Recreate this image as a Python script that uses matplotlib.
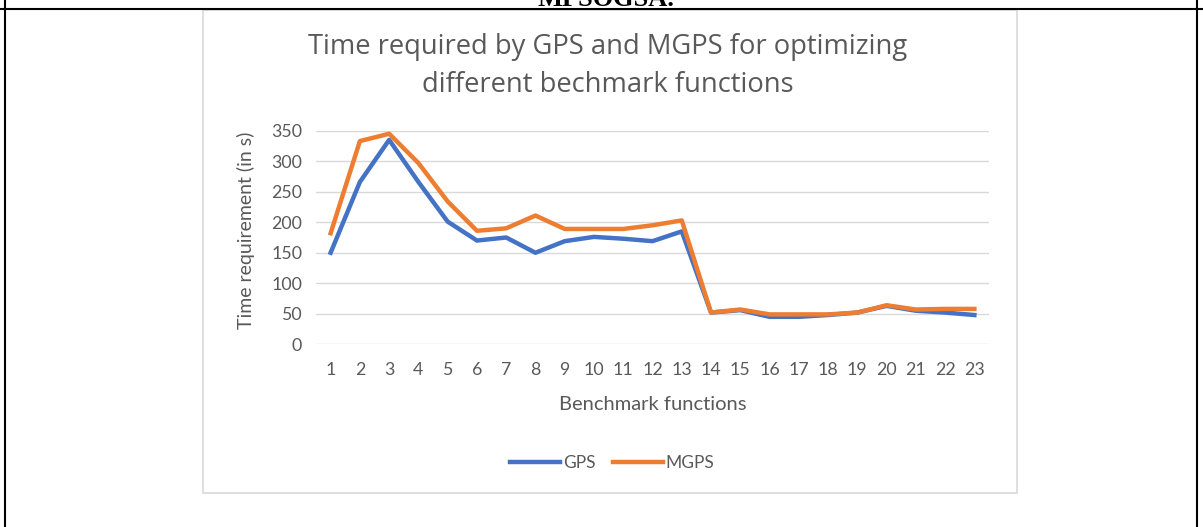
import matplotlib.pyplot as plt
from matplotlib.patches import Rectangle
from matplotlib.lines import Line2D

# Data
functions = list(range(1, 24))
gps = [150, 266, 335, 266, 201, 170, 175, 150, 169, 176, 173, 169, 185,
       52, 56, 45, 45, 48, 52, 63, 55, 52, 48]
mgps = [182, 333, 345, 297, 234, 186, 190, 211, 189, 189, 189, 195, 203,
        52, 57, 49, 49, 49, 52, 64, 57, 58, 58]

W, H = 1203, 527
fig = plt.figure(figsize=(W / 100, H / 100), dpi=100)
grey = '#595959'

# Table borders around the chart cell
fig.add_artist(Line2D([0, 1], [1 - 8.5 / H, 1 - 8.5 / H], color='black', lw=1.5))
fig.add_artist(Line2D([5 / W, 5 / W], [0, 1], color='black', lw=1.5))
fig.add_artist(Line2D([1197 / W, 1197 / W], [0, 1], color='black', lw=1.5))
# caption of the previous table row, cut by the top edge
fig.text(606 / W, 1 - 6.5 / H, 'MPSOGSA.', ha='center', va='baseline',
         fontsize=19, fontweight='bold', family='Liberation Serif')

# Chart area frame
fig.add_artist(Rectangle((203 / W, 1 - 493 / H), 814 / W, 483 / H,
                         fill=False, edgecolor='#d9d9d9', lw=1.2))

ax = fig.add_axes([316 / W, 1 - 344.3 / H, 673 / W, 213.6 / H])
ax.plot(functions, gps, color='#4472C4', lw=3.2, label='GPS')
ax.plot(functions, mgps, color='#ED7D31', lw=3.2, label='MGPS')

ax.set_xlim(0.5, 23.5)
ax.set_ylim(0, 350)
ax.set_yticks(range(0, 351, 50))
ax.set_xticks(functions)
ax.grid(axis='y', color='#d9d9d9', lw=1)
ax.set_axisbelow(True)
for s in ax.spines.values():
    s.set_visible(False)
ax.tick_params(length=0, labelsize=12.8, colors=grey, labelfontfamily='Lato')
ax.tick_params(axis='x', pad=13)
ax.tick_params(axis='y', pad=10)

ax.set_xlabel('Benchmark functions', fontsize=14.5, color=grey, family='Lato', va='center')
ax.set_ylabel('Time requirement (in s)', fontsize=14, color=grey, family='Lato', va='center')
ax.xaxis.set_label_coords((653 - 316) / 673, (344.3 - 404) / 213.6)
ax.yaxis.set_label_coords((246 - 316) / 673, (344.3 - 230) / 213.6)

fig.text(608 / W, 1 - 66 / H, 'Time required by GPS and MGPS for optimizing\ndifferent bechmark functions',
         ha='center', va='center', fontsize=19.7, color=grey, family='Open Sans', linespacing=1.5)

fig.legend(loc='center', bbox_to_anchor=(612 / W, 1 - 463 / H), ncol=2, frameon=False,
           prop={'family': 'Lato', 'size': 12.5}, labelcolor=grey, handlelength=2.9,
           handletextpad=0.15, columnspacing=1.0)

fig.savefig('out.png', dpi=100)
